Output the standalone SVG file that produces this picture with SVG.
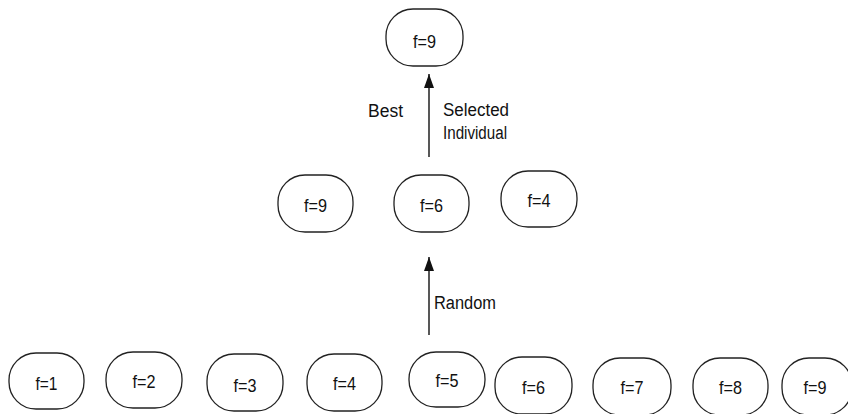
<svg xmlns="http://www.w3.org/2000/svg" width="848" height="414" viewBox="0 0 848 414">
<style>
.n rect{fill:#fff;stroke:#222;stroke-width:1.3}
.n text{font-family:"Liberation Sans",Arial,sans-serif;font-size:19px;fill:#111;text-anchor:middle}
.lbl{font-family:"Liberation Sans",Arial,sans-serif;font-size:18px;fill:#111}
.c line{stroke:#111;stroke-width:1.4}
</style>
<defs>
<marker id="ah" viewBox="0 0 14 10" refX="14" refY="5" markerWidth="14" markerHeight="10" markerUnits="userSpaceOnUse" orient="auto">
<path d="M0,0 L14,5 L0,10 Z" fill="#111"/>
</marker>
</defs>
<rect width="848" height="414" fill="#fff"/>
<g class="n" id="top"><rect x="386" y="9" width="77" height="57" rx="27"/><text x="424.5" y="47.5" textLength="23" lengthAdjust="spacingAndGlyphs">f=9</text></g>
<g class="n" id="m1"><rect x="278" y="175" width="75" height="57" rx="27"/><text x="315.5" y="212" textLength="23" lengthAdjust="spacingAndGlyphs">f=9</text></g>
<g class="n" id="m2"><rect x="394" y="175" width="75" height="57" rx="27"/><text x="431.5" y="212" textLength="23" lengthAdjust="spacingAndGlyphs">f=6</text></g>
<g class="n" id="m3"><rect x="501" y="171" width="76" height="56" rx="27"/><text x="539" y="207" textLength="23" lengthAdjust="spacingAndGlyphs">f=4</text></g>
<g class="n" id="b1"><rect x="9" y="353" width="75" height="56" rx="27"/><text x="46.5" y="390" textLength="22" lengthAdjust="spacingAndGlyphs">f=1</text></g>
<g class="n" id="b2"><rect x="106" y="352" width="76" height="56" rx="27"/><text x="144" y="388" textLength="23" lengthAdjust="spacingAndGlyphs">f=2</text></g>
<g class="n" id="b3"><rect x="207" y="354" width="76" height="57" rx="27"/><text x="245" y="392" textLength="23" lengthAdjust="spacingAndGlyphs">f=3</text></g>
<g class="n" id="b4"><rect x="307" y="354" width="75" height="57" rx="27"/><text x="344.5" y="390" textLength="23" lengthAdjust="spacingAndGlyphs">f=4</text></g>
<g class="n" id="b5"><rect x="409" y="352" width="76" height="55" rx="27"/><text x="447" y="387" textLength="23" lengthAdjust="spacingAndGlyphs">f=5</text></g>
<g class="n" id="b6"><rect x="495" y="357" width="77" height="57" rx="27"/><text x="533.5" y="394" textLength="23" lengthAdjust="spacingAndGlyphs">f=6</text></g>
<g class="n" id="b7"><rect x="593" y="358" width="78" height="57" rx="27"/><text x="632" y="394" textLength="23" lengthAdjust="spacingAndGlyphs">f=7</text></g>
<g class="n" id="b8"><rect x="693" y="358" width="75" height="57" rx="27"/><text x="730.5" y="394" textLength="23" lengthAdjust="spacingAndGlyphs">f=8</text></g>
<g class="n" id="b9"><rect x="782" y="358" width="70" height="57" rx="27"/><text x="815" y="394" textLength="23" lengthAdjust="spacingAndGlyphs">f=9</text></g>
<g class="c" id="connectors">
<line x1="429" y1="157" x2="429" y2="74" marker-end="url(#ah)"/>
<line x1="429" y1="335" x2="429" y2="257" marker-end="url(#ah)"/>
</g>
<text class="lbl" x="368" y="117" textLength="35" lengthAdjust="spacingAndGlyphs">Best</text>
<text class="lbl" x="443" y="116" textLength="66" lengthAdjust="spacingAndGlyphs">Selected</text>
<text class="lbl" x="443" y="139" textLength="64" lengthAdjust="spacingAndGlyphs">Individual</text>
<text class="lbl" x="434" y="309" textLength="62" lengthAdjust="spacingAndGlyphs">Random</text>
</svg>
